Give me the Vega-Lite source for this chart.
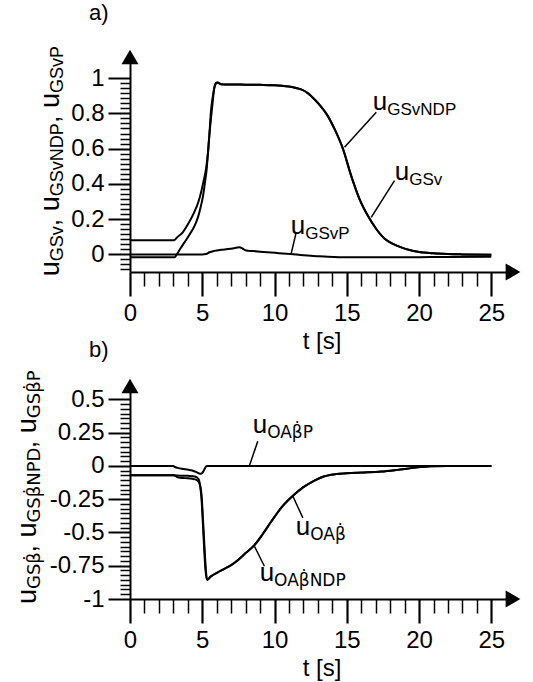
{
  "$schema": "https://vega.github.io/schema/vega-lite/v6.json",
  "background": "white",
  "padding": {"left": 13, "top": 2, "right": 5, "bottom": 5},
  "spacing": 114,
  "bounds": "flush",
  "datasets": {
    "top": [
      {"s":"v","t":0,"v":0.08},{"s":"v","t":3.05,"v":0.08},{"s":"v","t":3.3,"v":0.1},{"s":"v","t":3.65,"v":0.125},{"s":"v","t":4.0,"v":0.17},{"s":"v","t":4.45,"v":0.24},{"s":"v","t":4.7,"v":0.29},{"s":"v","t":4.91,"v":0.35},{"s":"v","t":5.1,"v":0.42},{"s":"v","t":5.26,"v":0.485},{"s":"v","t":5.4,"v":0.58},{"s":"v","t":5.49,"v":0.674},{"s":"v","t":5.6,"v":0.77},{"s":"v","t":5.72,"v":0.864},{"s":"v","t":5.84,"v":0.95},{"s":"v","t":5.95,"v":0.972},{"s":"v","t":6.05,"v":0.975},{"s":"v","t":6.3,"v":0.966},{"s":"v","t":7,"v":0.964},{"s":"v","t":8,"v":0.963},{"s":"v","t":9,"v":0.962},{"s":"v","t":10,"v":0.96},{"s":"v","t":10.5,"v":0.957},{"s":"v","t":11,"v":0.952},{"s":"v","t":11.5,"v":0.944},{"s":"v","t":11.84,"v":0.936},{"s":"v","t":12.3,"v":0.915},{"s":"v","t":12.76,"v":0.88},{"s":"v","t":13.2,"v":0.84},{"s":"v","t":13.57,"v":0.8},{"s":"v","t":14.15,"v":0.712},{"s":"v","t":14.73,"v":0.6},{"s":"v","t":15.3,"v":0.447},{"s":"v","t":15.88,"v":0.314},{"s":"v","t":16.46,"v":0.219},{"s":"v","t":17.04,"v":0.144},{"s":"v","t":17.6,"v":0.09},{"s":"v","t":18.2,"v":0.06},{"s":"v","t":18.77,"v":0.04},{"s":"v","t":19.35,"v":0.025},{"s":"v","t":19.92,"v":0.015},{"s":"v","t":21,"v":0.006},{"s":"v","t":22,"v":0.002},{"s":"v","t":23,"v":0},{"s":"v","t":25,"v":-0.002},
      {"s":"ndp","t":0,"v":-0.017},{"s":"ndp","t":3.1,"v":-0.017},{"s":"ndp","t":3.2,"v":-0.005},{"s":"ndp","t":3.5,"v":0.035},{"s":"ndp","t":3.77,"v":0.068},{"s":"ndp","t":4.1,"v":0.11},{"s":"ndp","t":4.45,"v":0.159},{"s":"ndp","t":4.7,"v":0.21},{"s":"ndp","t":4.91,"v":0.276},{"s":"ndp","t":5.05,"v":0.33},{"s":"ndp","t":5.19,"v":0.41},{"s":"ndp","t":5.3,"v":0.48},{"s":"ndp","t":5.38,"v":0.56},{"s":"ndp","t":5.5,"v":0.69},{"s":"ndp","t":5.6,"v":0.81},{"s":"ndp","t":5.7,"v":0.88},{"s":"ndp","t":5.8,"v":0.93},{"s":"ndp","t":5.95,"v":0.97},{"s":"ndp","t":6.05,"v":0.975},{"s":"ndp","t":6.3,"v":0.966},{"s":"ndp","t":7,"v":0.964},{"s":"ndp","t":8,"v":0.963},{"s":"ndp","t":9,"v":0.962},{"s":"ndp","t":10,"v":0.96},{"s":"ndp","t":10.5,"v":0.957},{"s":"ndp","t":11,"v":0.952},{"s":"ndp","t":11.5,"v":0.944},{"s":"ndp","t":11.84,"v":0.936},{"s":"ndp","t":12.3,"v":0.915},{"s":"ndp","t":12.76,"v":0.88},{"s":"ndp","t":13.2,"v":0.84},{"s":"ndp","t":13.57,"v":0.8},{"s":"ndp","t":14.15,"v":0.712},{"s":"ndp","t":14.73,"v":0.6},{"s":"ndp","t":15.3,"v":0.447},{"s":"ndp","t":15.88,"v":0.314},{"s":"ndp","t":16.46,"v":0.219},{"s":"ndp","t":17.04,"v":0.144},{"s":"ndp","t":17.6,"v":0.09},{"s":"ndp","t":18.2,"v":0.06},{"s":"ndp","t":18.77,"v":0.04},{"s":"ndp","t":19.35,"v":0.025},{"s":"ndp","t":19.92,"v":0.015},{"s":"ndp","t":21,"v":0.006},{"s":"ndp","t":22,"v":0.002},{"s":"ndp","t":23,"v":0},{"s":"ndp","t":25,"v":-0.002},
      {"s":"p","t":0,"v":0},{"s":"p","t":5.0,"v":0},{"s":"p","t":5.26,"v":0.002},{"s":"p","t":5.5,"v":0.012},{"s":"p","t":5.84,"v":0.02},{"s":"p","t":6.3,"v":0.026},{"s":"p","t":6.76,"v":0.03},{"s":"p","t":7.2,"v":0.035},{"s":"p","t":7.57,"v":0.04},{"s":"p","t":7.8,"v":0.032},{"s":"p","t":8.03,"v":0.022},{"s":"p","t":8.5,"v":0.019},{"s":"p","t":9.5,"v":0.012},{"s":"p","t":10.3,"v":0.007},{"s":"p","t":11.1,"v":0.002},{"s":"p","t":12,"v":-0.005},{"s":"p","t":12.9,"v":-0.01},{"s":"p","t":13.7,"v":-0.014},{"s":"p","t":14.5,"v":-0.016},{"s":"p","t":16,"v":-0.017},{"s":"p","t":18,"v":-0.017},{"s":"p","t":20,"v":-0.016},{"s":"p","t":22,"v":-0.015},{"s":"p","t":25,"v":-0.014}
    ],
    "bottom": [
      {"s":"p","t":0,"v":0},{"s":"p","t":3.0,"v":0},{"s":"p","t":3.1,"v":-0.008},{"s":"p","t":3.3,"v":-0.015},{"s":"p","t":3.7,"v":-0.023},{"s":"p","t":4.0,"v":-0.028},{"s":"p","t":4.3,"v":-0.035},{"s":"p","t":4.6,"v":-0.047},{"s":"p","t":4.85,"v":-0.06},{"s":"p","t":4.95,"v":-0.058},{"s":"p","t":5.08,"v":-0.04},{"s":"p","t":5.2,"v":-0.015},{"s":"p","t":5.3,"v":0},{"s":"p","t":8,"v":0},{"s":"p","t":25,"v":0},
      {"s":"a","t":0,"v":-0.07},{"s":"a","t":3.0,"v":-0.07},{"s":"a","t":3.2,"v":-0.072},{"s":"a","t":4.0,"v":-0.075},{"s":"a","t":4.5,"v":-0.08},{"s":"a","t":4.75,"v":-0.1},{"s":"a","t":4.85,"v":-0.15},{"s":"a","t":4.95,"v":-0.25},{"s":"a","t":5.05,"v":-0.45},{"s":"a","t":5.13,"v":-0.62},{"s":"a","t":5.22,"v":-0.78},{"s":"a","t":5.33,"v":-0.855},{"s":"a","t":5.6,"v":-0.83},{"s":"a","t":6.07,"v":-0.8},{"s":"a","t":6.5,"v":-0.775},{"s":"a","t":7.0,"v":-0.745},{"s":"a","t":7.5,"v":-0.705},{"s":"a","t":8.0,"v":-0.655},{"s":"a","t":8.61,"v":-0.595},{"s":"a","t":9.2,"v":-0.51},{"s":"a","t":9.76,"v":-0.42},{"s":"a","t":10.5,"v":-0.31},{"s":"a","t":11.27,"v":-0.225},{"s":"a","t":12.0,"v":-0.16},{"s":"a","t":12.76,"v":-0.11},{"s":"a","t":13.4,"v":-0.08},{"s":"a","t":13.92,"v":-0.066},{"s":"a","t":15,"v":-0.055},{"s":"a","t":16.2,"v":-0.05},{"s":"a","t":17.4,"v":-0.043},{"s":"a","t":18.5,"v":-0.03},{"s":"a","t":19.6,"v":-0.015},{"s":"a","t":20.8,"v":-0.003},{"s":"a","t":22,"v":0},{"s":"a","t":25,"v":0},
      {"s":"b","t":0,"v":-0.07},{"s":"b","t":3.0,"v":-0.07},{"s":"b","t":3.3,"v":-0.085},{"s":"b","t":3.8,"v":-0.092},{"s":"b","t":4.3,"v":-0.097},{"s":"b","t":4.6,"v":-0.105},{"s":"b","t":4.8,"v":-0.13},{"s":"b","t":4.95,"v":-0.22},{"s":"b","t":5.05,"v":-0.4},{"s":"b","t":5.15,"v":-0.6},{"s":"b","t":5.25,"v":-0.78},{"s":"b","t":5.33,"v":-0.855},{"s":"b","t":5.6,"v":-0.83},{"s":"b","t":6.07,"v":-0.8},{"s":"b","t":6.5,"v":-0.775},{"s":"b","t":7.0,"v":-0.745},{"s":"b","t":7.5,"v":-0.705},{"s":"b","t":8.0,"v":-0.655},{"s":"b","t":8.61,"v":-0.595},{"s":"b","t":9.2,"v":-0.51},{"s":"b","t":9.76,"v":-0.42},{"s":"b","t":10.5,"v":-0.31},{"s":"b","t":11.27,"v":-0.225},{"s":"b","t":12.0,"v":-0.16},{"s":"b","t":12.76,"v":-0.11},{"s":"b","t":13.4,"v":-0.08},{"s":"b","t":13.92,"v":-0.066},{"s":"b","t":15,"v":-0.055},{"s":"b","t":16.2,"v":-0.05},{"s":"b","t":17.4,"v":-0.043},{"s":"b","t":18.5,"v":-0.03},{"s":"b","t":19.6,"v":-0.015},{"s":"b","t":20.8,"v":-0.003},{"s":"b","t":22,"v":0},{"s":"b","t":25,"v":0}
    ],
    "leadA": [
      {"x1":14.84,"y1":0.608,"x2":17.04,"y2":0.807},
      {"x1":16.69,"y1":0.21,"x2":18.3,"y2":0.419},
      {"x1":11.14,"y1":0,"x2":11.5,"y2":0.125}
    ],
    "labA": [
      {"t":17.8,"v":0.818,"main":"u","sub":"GSvNDP"},
      {"t":19.32,"v":0.42,"main":"u","sub":"GSv"},
      {"t":12.12,"v":0.114,"main":"u","sub":"GSvP"}
    ],
    "ytA": [
      {"t":-4.92,"v":-0.039,"main":"u","sub":"GSv"},
      {"t":-4.92,"v":0.33,"main":", u","sub":"GSvNDP"},
      {"t":-4.92,"v":0.9156,"main":", u","sub":"GSvP"}
    ],
    "leadB": [
      {"x1":8.26,"y1":0,"x2":8.84,"y2":0.185},
      {"x1":11.27,"y1":-0.228,"x2":11.96,"y2":-0.391},
      {"x1":8.61,"y1":-0.604,"x2":9.3,"y2":-0.754}
    ],
    "labB": [
      {"t":9.49,"v":0.247,"main":"u","sub":"OAβ̇P"},
      {"t":12.47,"v":-0.519,"main":"u","sub":"OAβ̇"},
      {"t":9.97,"v":-0.865,"main":"u","sub":"OAβ̇NDP"}
    ],
    "ytB": [
      {"t":-6.51,"v":-0.925,"main":"u","sub":"GSβ̇"},
      {"t":-6.51,"v":-0.426,"main":", u","sub":"GSβ̇NPD"},
      {"t":-6.51,"v":0.358,"main":", u","sub":"GSβ̇P"}
    ]
  },
  "vconcat": [
    {
      "width": 383,
      "height": 215,
      "title": {"text": "a)", "dx": -41, "offset": 21},
      "layer": [
        {
          "data": {"name": "top"},
          "mark": {"type": "line", "stroke": "black", "strokeWidth": 2, "interpolate": "monotone"},
          "encoding": {
            "x": {"field": "t", "type": "quantitative", "scale": {"domain": [0, 26.5], "nice": false, "zero": false},
              "axis": {"title": "t [s]", "tickCount": 200, "values": [0,1,2,3,4,5,6,7,8,9,10,11,12,13,14,15,16,17,18,19,20,21,22,23,24,25],
                "tickSize": {"condition": {"test": "datum.value % 5 === 0", "value": 24}, "value": 14},
                "tickWidth": {"condition": {"test": "datum.value % 5 === 0", "value": 2.2}, "value": 1.5},
                "labelExpr": "datum.value % 5 === 0 ? '' + datum.value : ''", "labelPadding": 5, "titlePadding": 4}},
            "y": {"field": "v", "type": "quantitative", "scale": {"domain": [-0.1, 1.12], "nice": false, "zero": false},
              "axis": {"title": null, "tickCount": 200, "values": [-0.0857,-0.0571,-0.0286,0,0.0286,0.0571,0.0857,0.1143,0.1429,0.1714,0.2,0.2286,0.2571,0.2857,0.3143,0.3429,0.3714,0.4,0.4286,0.4571,0.4857,0.5143,0.5429,0.5714,0.6,0.6286,0.6571,0.6857,0.7143,0.7429,0.7714,0.8,0.8286,0.8571,0.8857,0.9143,0.9429,0.9714,1],
                "tickSize": {"condition": {"test": "indexof([0,0.2,0.4,0.6,0.8,1], datum.value) >= 0", "value": 22}, "value": 10},
                "tickWidth": {"condition": {"test": "indexof([0,0.2,0.4,0.6,0.8,1], datum.value) >= 0", "value": 2}, "value": 1.5},
                "labelExpr": "indexof([0,0.2,0.4,0.6,0.8,1], datum.value) >= 0 ? '' + datum.value : ''", "labelPadding": 4}},
            "detail": {"field": "s"}
          }
        },
        {
          "data": {"name": "leadA"},
          "mark": {"type": "rule", "stroke": "black", "strokeWidth": 1.5},
          "encoding": {
            "x": {"field": "x1", "type": "quantitative"},
            "y": {"field": "y1", "type": "quantitative"},
            "x2": {"field": "x2"},
            "y2": {"field": "y2"}
          }
        },
        {
          "data": {"name": "labA"},
          "mark": {"type": "text", "align": "right", "baseline": "alphabetic", "fontSize": 26, "color": "black"},
          "encoding": {"x": {"field": "t", "type": "quantitative"}, "y": {"field": "v", "type": "quantitative"}, "text": {"field": "main"}}
        },
        {
          "data": {"name": "labA"},
          "mark": {"type": "text", "align": "left", "baseline": "alphabetic", "fontSize": 17, "dy": 5, "color": "black"},
          "encoding": {"x": {"field": "t", "type": "quantitative"}, "y": {"field": "v", "type": "quantitative"}, "text": {"field": "sub"}}
        },
        {
          "data": {"name": "ytA"},
          "mark": {"type": "text", "align": "right", "baseline": "alphabetic", "angle": 270, "fontSize": 27, "color": "black"},
          "encoding": {"x": {"field": "t", "type": "quantitative"}, "y": {"field": "v", "type": "quantitative"}, "text": {"field": "main"}}
        },
        {
          "data": {"name": "ytA"},
          "mark": {"type": "text", "align": "left", "baseline": "alphabetic", "angle": 270, "fontSize": 18, "dy": 4, "color": "black"},
          "encoding": {"x": {"field": "t", "type": "quantitative"}, "y": {"field": "v", "type": "quantitative"}, "text": {"field": "sub"}}
        },
        {
          "data": {"values": [{}]},
          "mark": {"type": "point", "shape": "triangle-up", "filled": true, "size": 289, "color": "black", "opacity": 1, "strokeWidth": 0},
          "encoding": {"x": {"datum": 0, "type": "quantitative"}, "y": {"datum": 1.12, "type": "quantitative"}}
        },
        {
          "data": {"values": [{}]},
          "mark": {"type": "point", "shape": "triangle-right", "filled": true, "size": 289, "color": "black", "opacity": 1, "strokeWidth": 0},
          "encoding": {"x": {"datum": 26.5, "type": "quantitative"}, "y": {"datum": -0.1, "type": "quantitative"}}
        }
      ]
    },
    {
      "width": 383,
      "height": 213,
      "title": {"text": "b)", "dx": -41, "offset": 9},
      "layer": [
        {
          "data": {"name": "bottom"},
          "mark": {"type": "line", "stroke": "black", "strokeWidth": 2, "interpolate": "monotone"},
          "encoding": {
            "x": {"field": "t", "type": "quantitative", "scale": {"domain": [0, 26.5], "nice": false, "zero": false},
              "axis": {"title": "t [s]", "tickCount": 200, "values": [0,1,2,3,4,5,6,7,8,9,10,11,12,13,14,15,16,17,18,19,20,21,22,23,24,25],
                "tickSize": {"condition": {"test": "datum.value % 5 === 0", "value": 24}, "value": 14},
                "tickWidth": {"condition": {"test": "datum.value % 5 === 0", "value": 2.2}, "value": 1.5},
                "labelExpr": "datum.value % 5 === 0 ? '' + datum.value : ''", "labelPadding": 5, "titlePadding": 4}},
            "y": {"field": "v", "type": "quantitative", "scale": {"domain": [-1, 0.6], "nice": false, "zero": false},
              "axis": {"title": null, "tickCount": 200, "values": [-1,-0.9643,-0.9286,-0.8929,-0.8571,-0.8214,-0.7857,-0.75,-0.7143,-0.6786,-0.6429,-0.6071,-0.5714,-0.5357,-0.5,-0.4643,-0.4286,-0.3929,-0.3571,-0.3214,-0.2857,-0.25,-0.2143,-0.1786,-0.1429,-0.1071,-0.0714,-0.0357,0,0.0357,0.0714,0.1071,0.1429,0.1786,0.2143,0.25,0.2857,0.3214,0.3571,0.3929,0.4286,0.4643,0.5],
                "tickSize": {"condition": {"test": "indexof([-1,-0.75,-0.5,-0.25,0,0.25,0.5], datum.value) >= 0", "value": 22}, "value": 10},
                "tickWidth": {"condition": {"test": "indexof([-1,-0.75,-0.5,-0.25,0,0.25,0.5], datum.value) >= 0", "value": 2}, "value": 1.5},
                "labelExpr": "indexof([-1,-0.75,-0.5,-0.25,0,0.25,0.5], datum.value) >= 0 ? '' + datum.value : ''", "labelPadding": 4}},
            "detail": {"field": "s"}
          }
        },
        {
          "data": {"name": "leadB"},
          "mark": {"type": "rule", "stroke": "black", "strokeWidth": 1.5},
          "encoding": {
            "x": {"field": "x1", "type": "quantitative"},
            "y": {"field": "y1", "type": "quantitative"},
            "x2": {"field": "x2"},
            "y2": {"field": "y2"}
          }
        },
        {
          "data": {"name": "labB"},
          "mark": {"type": "text", "align": "right", "baseline": "alphabetic", "fontSize": 26, "color": "black"},
          "encoding": {"x": {"field": "t", "type": "quantitative"}, "y": {"field": "v", "type": "quantitative"}, "text": {"field": "main"}}
        },
        {
          "data": {"name": "labB"},
          "mark": {"type": "text", "align": "left", "baseline": "alphabetic", "fontSize": 17, "dy": 5, "color": "black", "font": "DejaVu Sans"},
          "encoding": {"x": {"field": "t", "type": "quantitative"}, "y": {"field": "v", "type": "quantitative"}, "text": {"field": "sub"}}
        },
        {
          "data": {"name": "ytB"},
          "mark": {"type": "text", "align": "right", "baseline": "alphabetic", "angle": 270, "fontSize": 27, "color": "black"},
          "encoding": {"x": {"field": "t", "type": "quantitative"}, "y": {"field": "v", "type": "quantitative"}, "text": {"field": "main"}}
        },
        {
          "data": {"name": "ytB"},
          "mark": {"type": "text", "align": "left", "baseline": "alphabetic", "angle": 270, "fontSize": 18, "dy": 4, "color": "black", "font": "DejaVu Sans"},
          "encoding": {"x": {"field": "t", "type": "quantitative"}, "y": {"field": "v", "type": "quantitative"}, "text": {"field": "sub"}}
        },
        {
          "data": {"values": [{}]},
          "mark": {"type": "point", "shape": "triangle-up", "filled": true, "size": 289, "color": "black", "opacity": 1, "strokeWidth": 0},
          "encoding": {"x": {"datum": 0, "type": "quantitative"}, "y": {"datum": 0.6, "type": "quantitative"}}
        },
        {
          "data": {"values": [{}]},
          "mark": {"type": "point", "shape": "triangle-right", "filled": true, "size": 289, "color": "black", "opacity": 1, "strokeWidth": 0},
          "encoding": {"x": {"datum": 26.5, "type": "quantitative"}, "y": {"datum": -1, "type": "quantitative"}}
        }
      ]
    }
  ],
  "config": {
    "font": "Liberation Sans",
    "view": {"stroke": null},
    "axis": {"domainColor": "black", "domainWidth": 2, "tickColor": "black", "labelColor": "black", "labelFontSize": 24, "labelFont": "Liberation Sans", "titleFont": "Liberation Sans", "titleFontSize": 24, "titleFontWeight": "normal", "titleColor": "black", "grid": false, "labelOverlap": false, "labelFlush": false, "labelBound": false},
    "title": {"fontSize": 22, "fontWeight": "normal", "anchor": "start", "frame": "group", "color": "black", "font": "Liberation Sans"}
  }
}
